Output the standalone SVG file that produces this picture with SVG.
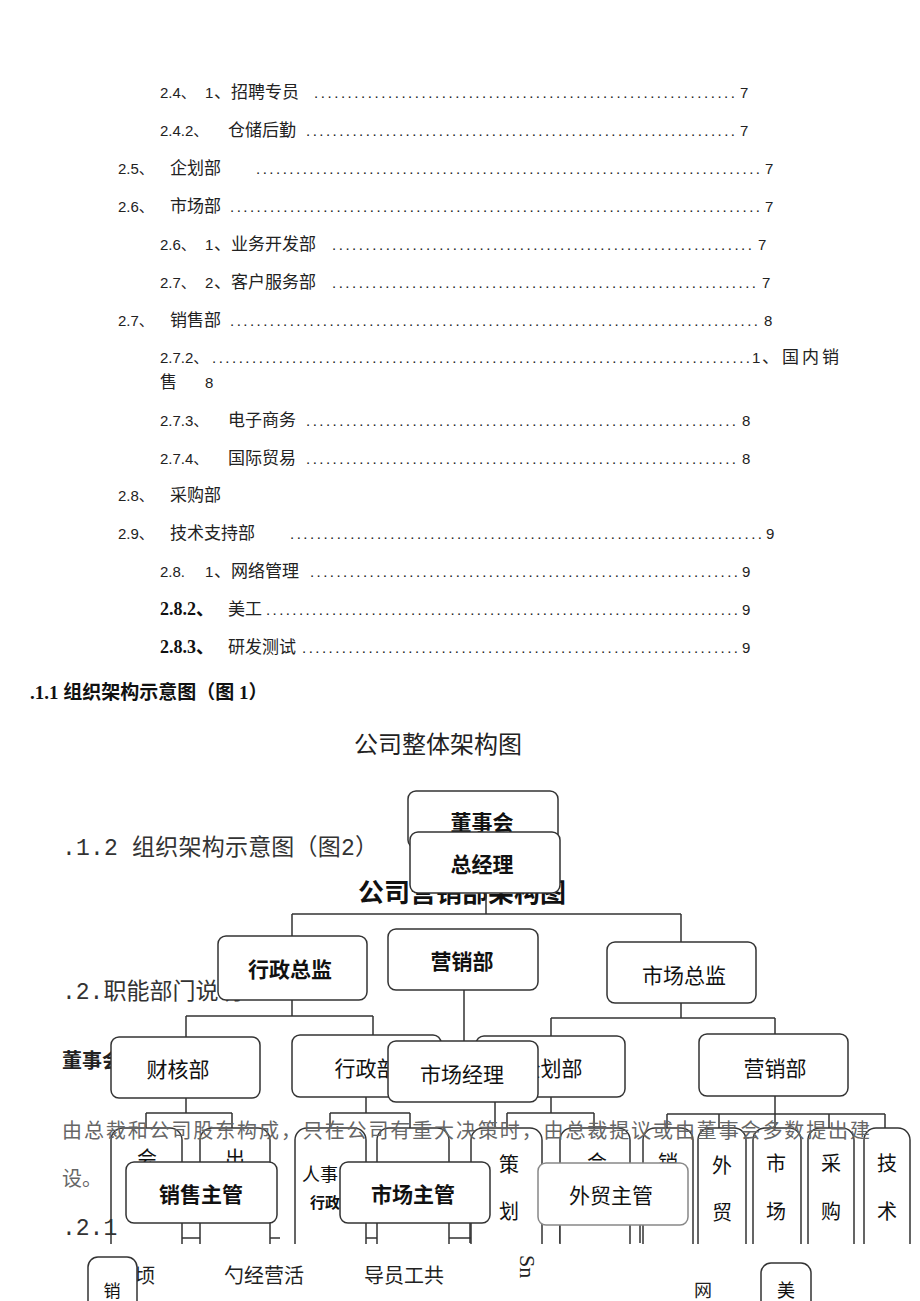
<svg xmlns="http://www.w3.org/2000/svg" width="920" height="1301" viewBox="0 0 920 1301">
<style>
.toc{font-family:"Liberation Sans","Noto Sans CJK SC",sans-serif;font-size:15px;fill:#222}
.tc{font-family:"Noto Sans CJK SC",sans-serif;font-size:17px;fill:#222}
.dots{font-family:"Liberation Sans",sans-serif;font-size:15px;fill:#222}
.bold{font-family:"Liberation Serif","Noto Sans CJK SC",serif;font-size:18px;font-weight:bold;fill:#111}
.h1{font-family:"Liberation Serif","Noto Sans CJK SC",serif;font-size:19px;font-weight:bold;fill:#111}
.title{font-family:"Noto Sans CJK SC",sans-serif;font-size:24px;fill:#222}
.grey{font-family:"Liberation Mono","Noto Sans CJK SC",monospace;font-size:23px;fill:#333}
.para{font-family:"Noto Sans CJK SC",sans-serif;font-size:20px;fill:#666}
.box{fill:#fff;stroke:#333;stroke-width:1.5}
.lbl{font-family:"Noto Sans CJK SC",sans-serif;font-size:21px;fill:#111;text-anchor:middle}
.vl{font-family:"Noto Sans CJK SC",sans-serif;font-size:20px;fill:#111;text-anchor:middle}
.frag{font-family:"Noto Sans CJK SC",sans-serif;font-size:20px;fill:#222}
.con{fill:none;stroke:#333;stroke-width:1.5}
</style>
<rect width="920" height="1301" fill="#fff"/>
<g id="toc">
<text class="toc" x="160" y="98">2.4、</text><text class="toc" x="205" y="98">1</text><text class="tc" x="214" y="98">、招聘专员</text><text class="dots" x="314" y="98" textLength="421" lengthAdjust="spacing">...............................................................</text><text class="toc" x="740" y="98">7</text>
<text class="toc" x="160" y="136">2.4.2、</text><text class="tc" x="228" y="136">仓储后勤</text><text class="dots" x="306" y="136" textLength="429" lengthAdjust="spacing">.................................................................</text><text class="toc" x="740" y="136">7</text>
<text class="toc" x="118" y="174">2.5、</text><text class="tc" x="170" y="174">企划部</text><text class="dots" x="256" y="174" textLength="504" lengthAdjust="spacing">............................................................................</text><text class="toc" x="765" y="174">7</text>
<text class="toc" x="118" y="212">2.6、</text><text class="tc" x="170" y="212">市场部</text><text class="dots" x="230" y="212" textLength="530" lengthAdjust="spacing">................................................................................</text><text class="toc" x="765" y="212">7</text>
<text class="toc" x="160" y="250">2.6、</text><text class="toc" x="205" y="250">1</text><text class="tc" x="214" y="250">、业务开发部</text><text class="dots" x="332" y="250" textLength="420" lengthAdjust="spacing">...............................................................</text><text class="toc" x="758" y="250">7</text>
<text class="toc" x="160" y="288">2.7、</text><text class="toc" x="205" y="288">2</text><text class="tc" x="214" y="288">、客户服务部</text><text class="dots" x="332" y="288" textLength="424" lengthAdjust="spacing">................................................................</text><text class="toc" x="762" y="288">7</text>
<text class="toc" x="118" y="326">2.7、</text><text class="tc" x="170" y="326">销售部</text><text class="dots" x="230" y="326" textLength="528" lengthAdjust="spacing">................................................................................</text><text class="toc" x="764" y="326">8</text>
<text class="toc" x="160" y="363">2.7.2、</text><text class="dots" x="212" y="363" textLength="538" lengthAdjust="spacing">.................................................................................</text><text class="toc" x="752" y="363">1</text><text class="tc" x="762" y="363" letter-spacing="3">、国内销</text>
<text class="tc" x="160" y="388">售</text><text class="toc" x="205" y="388">8</text>
<text class="toc" x="160" y="426">2.7.3、</text><text class="tc" x="228" y="426">电子商务</text><text class="dots" x="306" y="426" textLength="430" lengthAdjust="spacing">.................................................................</text><text class="toc" x="742" y="426">8</text>
<text class="toc" x="160" y="464">2.7.4、</text><text class="tc" x="228" y="464">国际贸易</text><text class="dots" x="306" y="464" textLength="430" lengthAdjust="spacing">.................................................................</text><text class="toc" x="742" y="464">8</text>
<text class="toc" x="118" y="501">2.8、</text><text class="tc" x="170" y="501">采购部</text>
<text class="toc" x="118" y="539">2.9、</text><text class="tc" x="170" y="539">技术支持部</text><text class="dots" x="290" y="539" textLength="472" lengthAdjust="spacing">.......................................................................</text><text class="toc" x="766" y="539">9</text>
<text class="toc" x="160" y="577">2.8.</text><text class="toc" x="205" y="577">1</text><text class="tc" x="214" y="577">、网络管理</text><text class="dots" x="310" y="577" textLength="428" lengthAdjust="spacing">.................................................................</text><text class="toc" x="742" y="577">9</text>
<text class="bold" x="160" y="615">2.8.2、</text><text class="tc" x="228" y="615">美工</text><text class="dots" x="266" y="615" textLength="472" lengthAdjust="spacing">........................................................................</text><text class="toc" x="742" y="615">9</text>
<text class="bold" x="160" y="653">2.8.3、</text><text class="tc" x="228" y="653">研发测试</text><text class="dots" x="302" y="653" textLength="436" lengthAdjust="spacing">..................................................................</text><text class="toc" x="742" y="653">9</text>
</g>
<g id="headings">
<text class="h1" x="30" y="699">.1.1 组织架构示意图（图 1）</text>
<text class="title" x="438" y="753" text-anchor="middle">公司整体架构图</text>
<text class="grey" x="62" y="855" textLength="316" lengthAdjust="spacing">.1.2 组织架构示意图（图2）</text>
<text x="358" y="902" style="font-family:'Noto Sans CJK SC',sans-serif;font-size:26px;font-weight:bold;fill:#111">公司营销部架构图</text>
<text class="grey" x="62" y="999">.2.职能部门说明</text>
<text x="62" y="1068" style="font-family:'Noto Sans CJK SC',sans-serif;font-size:20px;font-weight:bold;fill:#222">董事会</text>
</g>
<g id="connectors">
<path class="con" d="M486 893V914M292 914H681M292 914V937M681 914V942"/>
<path class="con" d="M292 1000V1016M186 1016H373M186 1016V1038M373 1016V1036"/>
<path class="con" d="M464 990V1042"/>
<path class="con" d="M681 1003V1018M551 1018H775M551 1018V1036M775 1018V1034"/>
<path class="con" d="M186 1098V1113M146 1113H232M146 1113V1130M232 1113V1130"/>
<path class="con" d="M366 1097V1113M330 1113H410M330 1113V1130M410 1113V1130"/>
<path class="con" d="M551 1097V1113M507 1113H594M507 1113V1130M594 1113V1130"/>
<path class="con" d="M775 1096V1114M667 1114H885M667 1114V1130M719 1114V1130M775 1114V1130M829 1114V1130M885 1114V1130"/>
<path class="con" d="M495 1102V1130M113 1238H280M340 1238H495M168 1223V1243M260 1223V1243M360 1223V1243M420 1223V1243M470 1223V1243M505 1225V1243M560 1225V1243M600 1225V1243M640 1225V1243M664 1225V1243"/>
</g>
<g id="n-dongshihui"><rect class="box" x="408" y="791" width="150" height="57" rx="8"/><text class="lbl" x="482" y="830" font-weight="bold">董事会</text></g>
<g id="n-zongjingli"><rect class="box" x="410" y="832" width="150" height="61" rx="8"/><text class="lbl" x="482" y="872" font-weight="bold">总经理</text></g>
<g id="n-xingzhengzongjian"><rect class="box" x="218" y="936" width="149" height="64" rx="8"/><text class="lbl" x="290" y="977" font-weight="bold">行政总监</text></g>
<g id="n-yingxiaobu"><rect class="box" x="388" y="929" width="150" height="61" rx="8"/><text class="lbl" x="462" y="969" font-weight="bold">营销部</text></g>
<g id="n-shichangzongjian"><rect class="box" x="607" y="942" width="149" height="61" rx="8"/><text class="lbl" x="684" y="983">市场总监</text></g>
<g id="n-caihebu"><rect class="box" x="111" y="1037" width="149" height="61" rx="8"/><text class="lbl" x="178" y="1077">财核部</text></g>
<g id="n-xingzhengbu"><rect class="box" x="292" y="1035" width="149" height="62" rx="8"/><text class="lbl" x="366" y="1076">行政部</text></g>
<g id="n-qihuabu"><rect class="box" x="476" y="1036" width="149" height="61" rx="8"/><text class="lbl" x="551" y="1076">企划部</text></g>
<g id="n-shichangjingli"><rect class="box" x="388" y="1041" width="150" height="61" rx="8"/><text class="lbl" x="462" y="1082">市场经理</text></g>
<g id="n-yingxiaobu2"><rect class="box" x="699" y="1034" width="149" height="62" rx="8"/><text class="lbl" x="775" y="1076">营销部</text></g>
<g id="tall">
<rect class="box" x="111" y="1128" width="71" height="140" rx="12"/><text class="vl" x="147" y="1166">会</text>
<rect class="box" x="200" y="1128" width="70" height="140" rx="12"/><text class="vl" x="235" y="1166">出</text>
<rect class="box" x="295" y="1128" width="71" height="140" rx="12"/><text class="vl" x="320" y="1181" style="font-size:18px">人事</text><text x="310" y="1208" style="font-family:'Noto Sans CJK SC',sans-serif;font-size:15px;font-weight:bold;fill:#111">行政</text>
<rect class="box" x="377" y="1128" width="72" height="140" rx="12"/>
<rect class="box" x="471" y="1128" width="71" height="140" rx="12"/><text class="vl" x="509" y="1172">策</text><text class="vl" x="509" y="1219">划</text>
<rect class="box" x="560" y="1128" width="70" height="140" rx="12"/><text class="vl" x="597" y="1170">会</text>
<rect class="box" x="643" y="1128" width="50" height="140" rx="12"/><text class="vl" x="668" y="1170">销</text>
<rect class="box" x="698" y="1128" width="48" height="140" rx="12"/><text class="vl" x="722" y="1173">外</text><text class="vl" x="722" y="1220">贸</text>
<rect class="box" x="753" y="1128" width="48" height="140" rx="12"/><text class="vl" x="776" y="1171">市</text><text class="vl" x="776" y="1219">场</text>
<rect class="box" x="808" y="1128" width="46" height="140" rx="12"/><text class="vl" x="831" y="1171">采</text><text class="vl" x="831" y="1219">购</text>
<rect class="box" x="864" y="1128" width="46" height="140" rx="12"/><text class="vl" x="887" y="1171">技</text><text class="vl" x="887" y="1219">术</text>
</g>
<g id="paragraph">
<text class="para" x="62" y="1138" textLength="808" lengthAdjust="spacing">由总裁和公司股东构成，只在公司有重大决策时，由总裁提议或由董事会多数提出建</text>
<text class="para" x="62" y="1186">设。</text>
<text class="grey" x="62" y="1235">.2.1</text>
</g>
<g id="n-xiaoshouzhuguan"><rect class="box" x="126" y="1162" width="151" height="61" rx="8"/><text class="lbl" x="201" y="1202" font-weight="bold">销售主管</text></g>
<g id="n-shichangzhuguan"><rect class="box" x="340" y="1162" width="150" height="61" rx="8"/><text class="lbl" x="413" y="1202" font-weight="bold">市场主管</text></g>
<g id="n-waimaozhuguan"><rect class="box" x="538" y="1163" width="150" height="62" rx="8" style="stroke:#888"/><text class="lbl" x="611" y="1203">外贸主管</text></g>
<g id="band">
<rect x="0" y="1244" width="920" height="57" fill="#fff"/>
<text class="frag" x="135" y="1283">顷</text>
<text class="frag" x="224" y="1283">勺经营活</text>
<text class="frag" x="364" y="1283">导员工共</text>
<text class="frag" x="520" y="1255" transform="rotate(90 520 1255)" style="font-family:'Liberation Serif',serif;font-size:22px">Sn</text>
<text class="frag" x="694" y="1297" style="font-size:18px">网</text>
</g>
<g id="n-xiao"><rect class="box" x="88" y="1257" width="49" height="60" rx="10"/><text class="vl" x="112" y="1297" style="font-size:17px">销</text></g>
<g id="n-mei"><rect class="box" x="761" y="1263" width="50" height="50" rx="10"/><text class="vl" x="786" y="1297" style="font-size:18px">美</text></g>
</svg>
